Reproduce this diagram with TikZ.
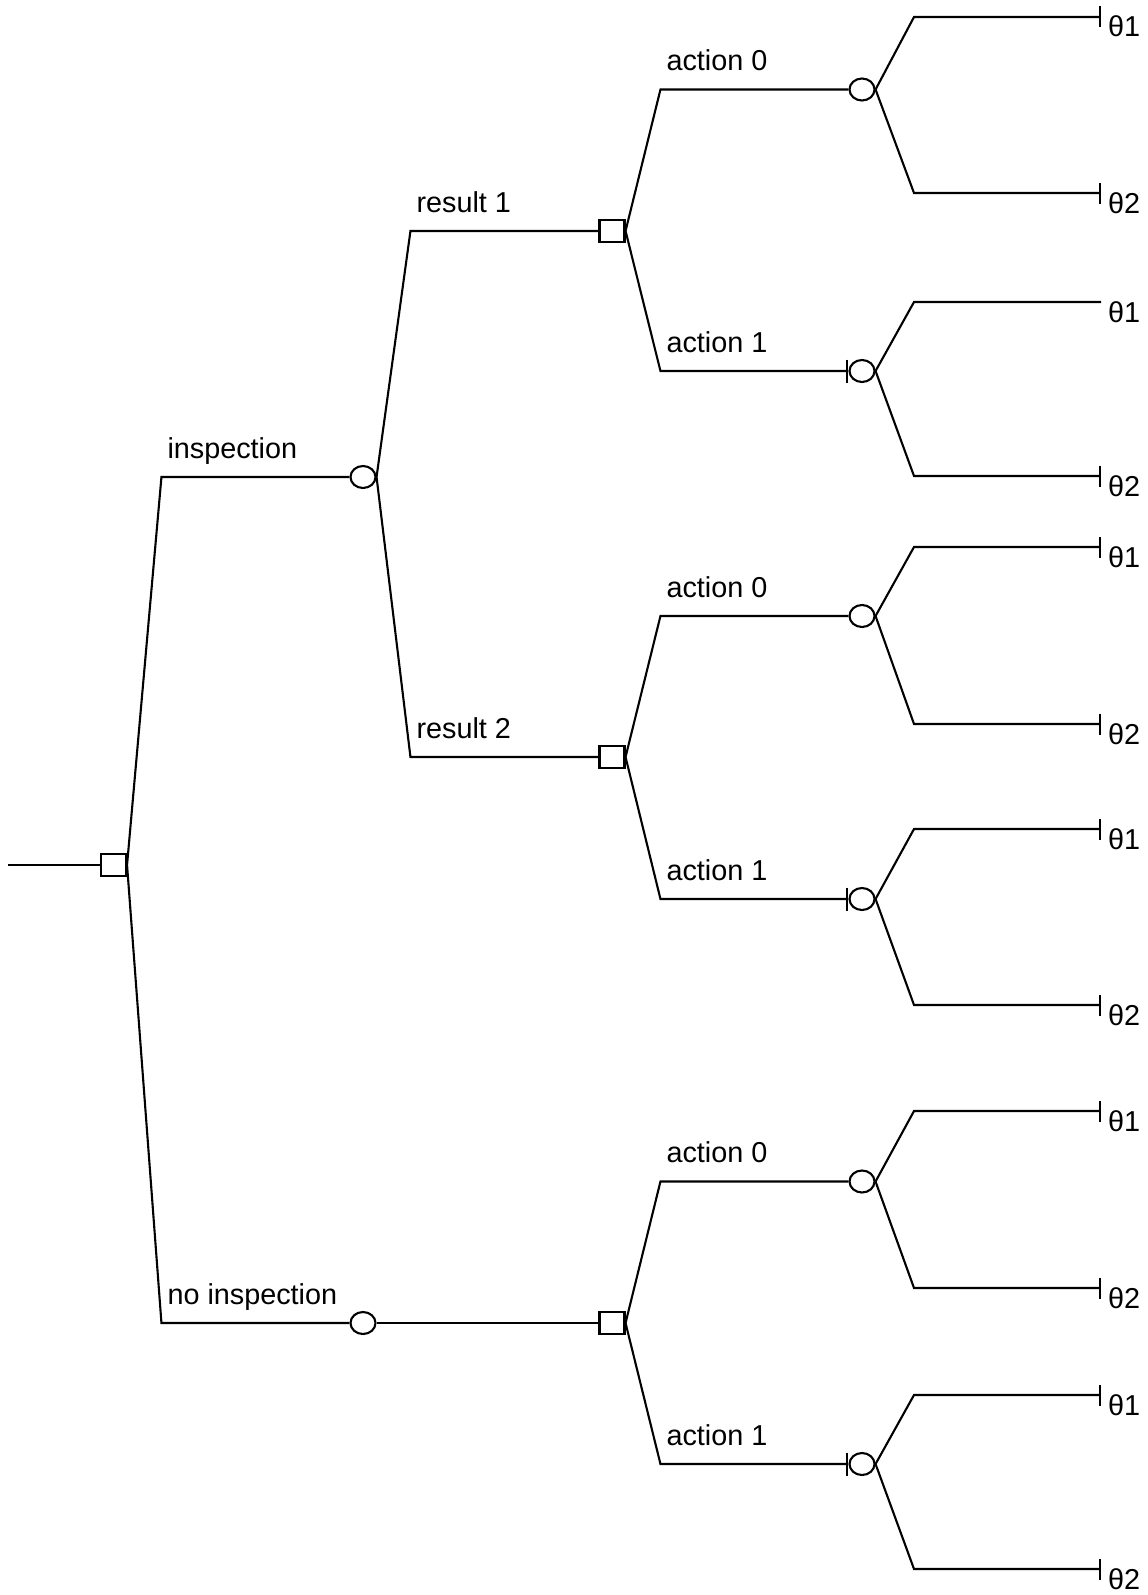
\documentclass[tikz,border=0pt]{standalone}
\usepackage{fontspec}
\setmainfont{Liberation Sans}
\usepackage{tikz}
\usetikzlibrary{arrows.meta, shapes.geometric}

\tikzset{
  decision/.style={draw, rectangle, minimum width=25pt, minimum height=22pt, inner sep=0pt},
  chance/.style={draw, ellipse, minimum width=25pt, minimum height=22pt, inner sep=0pt},
  lbl/.style={anchor=base west, xshift=5pt, yshift=19pt, inner sep=0pt},
  leaf/.style={anchor=base west, xshift=6pt, yshift=-20pt, inner sep=0pt},
  endtick/.style={-{Bar[width=21pt]}},
  nodetick/.style={-{Bar[width=23pt]}}
}

\begin{document}
\begin{tikzpicture}[x=1pt, y=-1pt, line width=2.1pt,
                    font={\fontsize{28.8}{34}\selectfont}]
  \useasboundingbox (0,0) rectangle (1148,1595);

  % decision and chance nodes
  \coordinate (start) at (8,865);
  \node[decision] (root)   at (113.5,865) {};
  \node[chance]   (insp)   at (363,477)   {};
  \node[chance]   (noinsp) at (363,1323)  {};
  \node[decision] (res1)   at (612,231)   {};
  \node[decision] (res2)   at (612,757)   {};
  \node[decision] (nsq)    at (612,1323)  {};
  \foreach \n/\y in {a10/89.5, a11/371, a20/616, a21/899, a30/1181.5, a31/1464}
    \node[chance] (\n) at (862,\y) {};

  % outcome ends
  \foreach \i/\y in {1/17, 2/193, 3/302, 4/476, 5/547, 6/724,
                     7/829, 8/1005, 9/1111, 10/1288, 11/1395, 12/1569}
    \coordinate (t\i) at (1101,\y);

  \draw (start) -- (root.west);
  \foreach \p/\c/\l in {root/insp/inspection, root/noinsp/no inspection,
                        insp/res1/result 1, insp/res2/result 2,
                        res1/a10/action 0, res2/a20/action 0, nsq/a30/action 0}
    \draw (\p.east) -- ([xshift=-188pt]\c.west) node[lbl] {\l} -- (\c.west);
  \draw (noinsp.east) -- (nsq.west);
  \foreach \p/\c in {res1/a11, res2/a21, nsq/a31}
    \draw[nodetick] (\p.east) -- ([xshift=-188pt]\c.west) node[lbl] {action 1} -- (\c.west);

  % outcomes
  \foreach \p/\t/\l in {a10/t1/θ1, a10/t2/θ2, a11/t4/θ2, a20/t5/θ1, a20/t6/θ2,
                        a21/t7/θ1, a21/t8/θ2, a30/t9/θ1, a30/t10/θ2,
                        a31/t11/θ1, a31/t12/θ2}
    \draw[endtick] (\p.east) -- ([xshift=-187pt]\t) -- (\t) node[leaf] {\l};
  \draw (a11.east) -- ([xshift=-187pt]t3) -- (t3) node[leaf] {θ1};
\end{tikzpicture}
\end{document}
